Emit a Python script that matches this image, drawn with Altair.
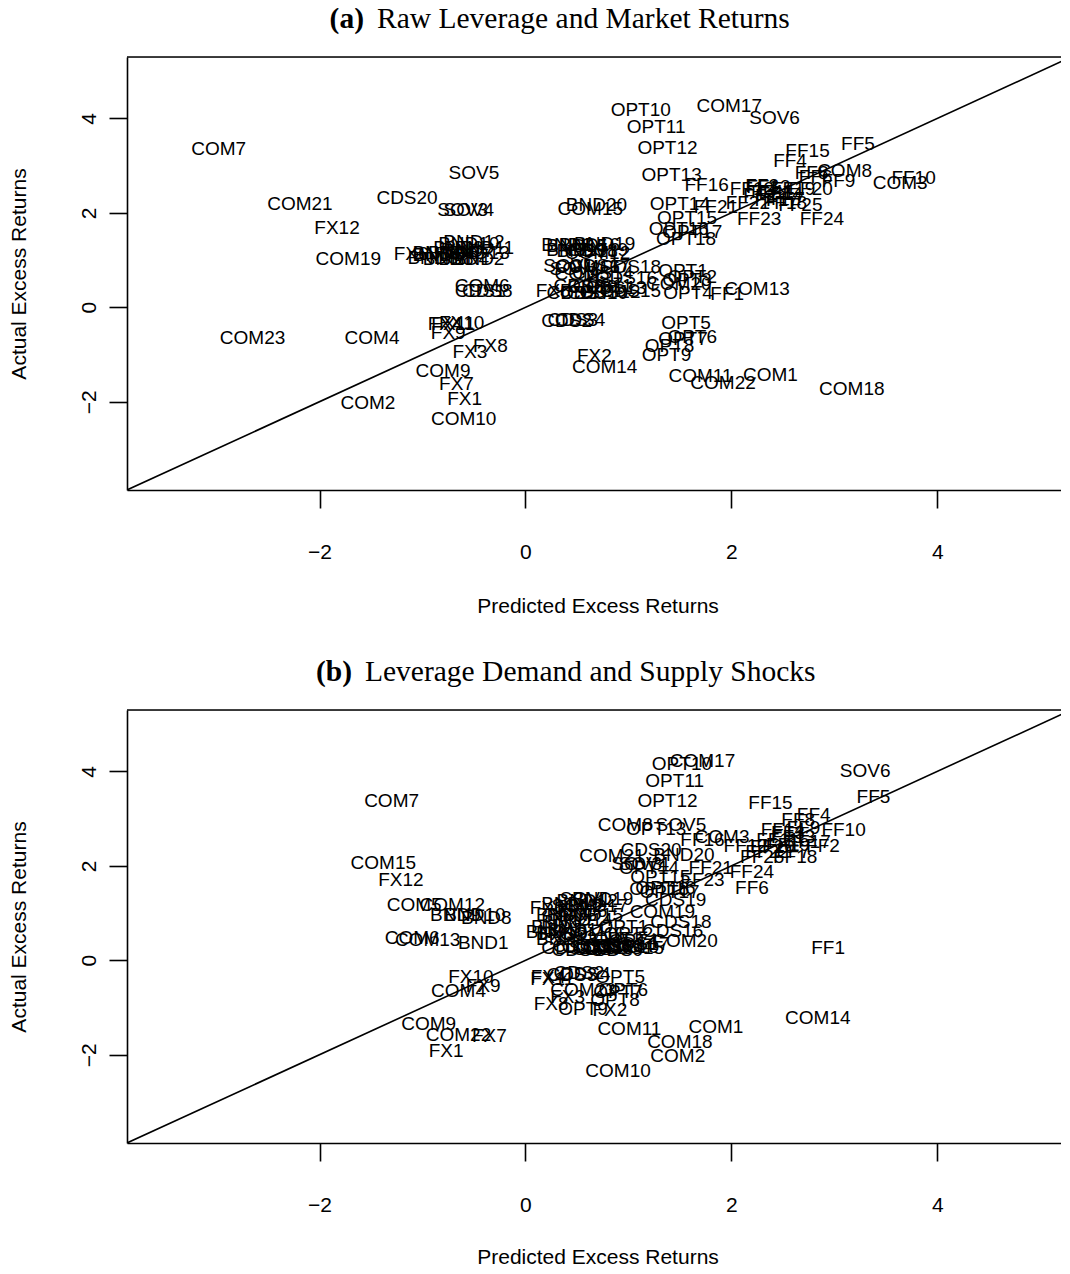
import altair as alt
import pandas as pd

# ---------------- data ----------------
top_names = [
    "COM1", "COM2", "COM3", "COM4", "COM5", "COM6", "COM7", "COM8", "COM9", "COM10",
    "COM11", "COM12", "COM13", "COM14", "COM15", "COM16", "COM17", "COM18", "COM19", "COM20",
    "COM21", "COM22", "COM23",
    "FF1", "FF2", "FF3", "FF4", "FF5", "FF6", "FF7", "FF8", "FF9", "FF10",
    "FF11", "FF12", "FF13", "FF14", "FF15", "FF16", "FF17", "FF18", "FF19", "FF20",
    "FF21", "FF22", "FF23", "FF24", "FF25",
    "OPT1", "OPT2", "OPT3", "OPT4", "OPT5", "OPT6", "OPT7", "OPT8", "OPT9", "OPT10",
    "OPT11", "OPT12", "OPT13", "OPT14", "OPT15", "OPT16", "OPT17", "OPT18",
    "CDS1", "CDS2", "CDS3", "CDS4", "CDS5", "CDS6", "CDS7", "CDS8", "CDS9", "CDS10",
    "CDS11", "CDS12", "CDS13", "CDS14", "CDS15", "CDS16", "CDS17", "CDS18", "CDS19", "CDS20",
    "BND1", "BND2", "BND3", "BND4", "BND5", "BND6", "BND7", "BND8", "BND9", "BND10",
    "BND11", "BND12", "BND13", "BND14", "BND15", "BND16", "BND17", "BND18", "BND19", "BND20",
    "FX1", "FX2", "FX3", "FX4", "FX5", "FX6", "FX7", "FX8", "FX9", "FX10", "FX11", "FX12",
    "SOV1", "SOV2", "SOV3", "SOV4", "SOV5", "SOV6",
]
top_pred = [
    2.38, -1.53, 3.64, -1.49, 0.55, -0.42, -2.98, 3.10, -0.80, -0.60,
    1.70, 0.70, 2.25, 0.77, 0.63, 0.60, 1.98, 3.17, -1.72, 1.49,
    -2.19, 1.92, -2.65,
    1.96, 2.28, 2.30, 2.57, 3.23, 2.82, 2.55, 2.78, 3.04, 3.77,
    2.40, 2.20, 2.36, 2.48, 2.74, 1.76, 2.44, 2.52, 2.60, 2.77,
    1.85, 2.16, 2.27, 2.88, 2.67,
    1.53, 1.62, 1.57, 1.58, 1.56, 1.62, 1.53, 1.40, 1.37, 1.12,
    1.27, 1.38, 1.42, 1.50, 1.57, 1.49, 1.62, 1.56,
    -0.44, 0.40, 0.46, 0.53, 0.45, 0.52, 0.58, -0.37, 0.65, 0.70,
    0.75, 0.82, 0.88, 0.75, 1.02, 0.98, 0.72, 1.02, 0.70, -1.15,
    0.40, -0.45, -0.85, -0.60, -0.70, -0.90, -0.55, -0.75, -0.65, -0.55,
    -0.40, -0.50, -0.45, -0.80, 0.50, 0.62, 0.50, 0.60, 0.77, 0.69,
    -0.59, 0.67, -0.54, -0.78, 0.27, -1.11, -0.67, -0.34, -0.75, -0.62, -0.70, -1.83,
    0.42, 0.48, -0.61, -0.55, -0.50, 2.42,
]
top_act = [
    -1.43, -2.02, 2.63, -0.66, 0.70, 0.45, 3.36, 2.89, -1.36, -2.36,
    -1.45, 1.15, 0.38, -1.26, 2.09, 0.85, 4.26, -1.74, 1.02, 0.49,
    2.19, -1.60, -0.66,
    0.28, 2.36, 2.56, 3.09, 3.45, 2.75, 2.30, 2.85, 2.68, 2.74,
    2.45, 2.50, 2.55, 2.40, 3.30, 2.58, 2.28, 2.20, 2.50, 2.50,
    2.12, 2.21, 1.87, 1.87, 2.17,
    0.77, 0.64, 0.58, 0.30, -0.34, -0.62, -0.68, -0.81, -1.02, 4.17,
    3.81, 3.38, 2.81, 2.19, 1.88, 1.66, 1.60, 1.45,
    0.34, -0.30, -0.28, -0.28, 0.30, 0.45, 0.30, 0.34, 0.42, 0.30,
    0.45, 0.32, 0.40, 0.72, 0.34, 0.62, 0.88, 0.85, 1.22, 2.32,
    1.32, 1.02, 1.10, 1.02, 1.15, 1.05, 1.20, 1.02, 1.25, 1.35,
    1.25, 1.38, 1.15, 1.15, 1.30, 1.32, 1.22, 1.20, 1.33, 2.17,
    -1.94, -1.04, -0.94, -0.36, 0.34, 1.13, -1.62, -0.81, -0.55, -0.34, -0.36, 1.68,
    0.88, 0.80, 2.06, 2.06, 2.85, 4.00,
]

bot_names = top_names
bot_pred = [
    1.85, 1.48, 1.91, -0.65, -1.08, -1.10, -1.30, 0.97, -0.94, 0.90,
    1.01, -0.71, -0.95, 2.84, -1.38, 0.65, 1.72, 1.50, 1.33, 1.55,
    0.84, -0.65, 0.56,
    2.94, 2.89, 2.55, 2.80, 3.38, 2.20, 2.60, 2.65, 2.70, 3.09,
    2.45, 2.14, 2.60, 2.50, 2.38, 1.72, 2.75, 2.62, 2.55, 2.40,
    1.80, 2.35, 1.72, 2.20, 2.30,
    0.95, 1.00, 0.90, 1.05, 0.92, 0.95, 0.90, 0.87, 0.56, 1.52,
    1.45, 1.38, 1.27, 1.20, 1.31, 1.36, 1.40, 1.30,
    0.40, 0.52, 0.45, 0.58, 0.50, 0.60, 0.70, 0.80, 0.90, 1.00,
    0.55, 0.75, 0.85, 0.95, 1.05, 1.43, 1.10, 1.51, 1.46, 1.22,
    -0.41, 0.35, 0.30, 0.40, 0.45, 0.55, 0.35, -0.38, -0.68, -0.49,
    0.50, 0.60, 0.40, 0.55, 0.65, 0.30, 0.70, 0.45, 0.75, 1.54,
    -0.77, 0.82, 0.41, 0.22, 0.30, 0.21, -0.35, 0.25, -0.41, -0.53, 0.26, -1.21,
    0.58, 0.50, 1.08, 1.15, 1.51, 3.30,
]
bot_act = [
    -1.42, -2.03, 2.60, -0.66, 1.16, 0.47, 3.37, 2.86, -1.36, -2.35,
    -1.46, 1.18, 0.42, -1.23, 2.05, 0.55, 4.23, -1.74, 1.02, 0.40,
    2.20, -1.59, -0.63,
    0.25, 2.41, 2.70, 3.07, 3.45, 1.52, 2.30, 2.96, 2.80, 2.75,
    2.55, 2.43, 2.60, 2.75, 3.32, 2.54, 2.50, 2.18, 2.45, 2.40,
    1.95, 2.30, 1.71, 1.86, 2.18,
    0.70, 0.55, 0.45, 0.40, -0.36, -0.62, -0.68, -0.85, -1.04, 4.15,
    3.79, 3.37, 2.79, 1.95, 1.76, 1.54, 1.45, 1.50,
    0.25, -0.28, -0.32, -0.30, 0.22, 0.28, 0.24, 0.26, 0.22, 0.28,
    0.30, 0.30, 0.30, 0.30, 0.25, 0.61, 0.35, 0.80, 1.27, 2.33,
    0.36, 0.55, 0.70, 0.82, 0.95, 1.05, 0.95, 0.89, 0.95, 0.95,
    0.65, 1.25, 0.45, 0.85, 0.95, 0.60, 1.15, 1.20, 1.30, 2.22,
    -1.93, -1.06, -0.78, -0.35, 0.55, 1.10, -1.61, -0.93, -0.55, -0.36, -0.40, 1.69,
    1.30, 1.15, 2.03, 2.03, 2.86, 4.00,
]

tick_values = [-2, 0, 2, 4]
axis_lo, x_hi, y_hi = -3.87, 5.27, 5.30
diag_ends = [axis_lo, y_hi]

# ---------------- styling ----------------
W, H = 941, 433
SANS = "Liberation Sans"
SERIF = "Liberation Serif"
FS = 19      # point labels
AFS = 21     # axis labels and titles
TFS = 29.5   # panel titles
LW = 1.6


def axes(x_title_y):
    xaxis = alt.Axis(
        values=tick_values,
        labelExpr="datum.value < 0 ? '\u2212' + abs(datum.value) : '' + datum.value",
        title="Predicted Excess Returns",
        grid=False, domainColor="black", domainWidth=LW,
        tickColor="black", tickWidth=LW, tickSize=18,
        labelFont=SANS, labelFontSize=AFS, labelColor="black", labelPadding=33,
        labelFlush=False,
        titleFont=SANS, titleFontSize=AFS, titleFontWeight="normal", titleColor="black",
        titleY=x_title_y, titleBaseline="middle",
    )
    yaxis = alt.Axis(
        values=tick_values,
        labelExpr="datum.value < 0 ? '\u2212' + abs(datum.value) : '' + datum.value",
        title="Actual Excess Returns",
        grid=False, domainColor="black", domainWidth=LW,
        tickColor="black", tickWidth=LW, tickSize=18,
        labelFont=SANS, labelFontSize=AFS, labelColor="black", labelPadding=10,
        labelAngle=270, labelAlign="center", labelBaseline="bottom", labelFlush=False,
        titleFont=SANS, titleFontSize=AFS, titleFontWeight="normal", titleColor="black",
        titleAngle=270, titleX=-108, titleY=H / 2, titleBaseline="middle", titleAlign="center",
    )
    return xaxis, yaxis


def panel(names, xs, ys, tag, rest, tag_right, rest_left, x_title_y):
    xs_ = alt.Scale(domain=[axis_lo, x_hi], nice=False, zero=False)
    ys_ = alt.Scale(domain=[axis_lo, y_hi], nice=False, zero=False)
    xaxis, yaxis = axes(x_title_y)
    df = pd.DataFrame({"name": names, "pred": xs, "act": ys})

    labels = alt.Chart(df).mark_text(
        font=SANS, fontSize=FS, color="black", align="center", baseline="middle"
    ).encode(
        x=alt.X("pred:Q", scale=xs_, axis=xaxis),
        y=alt.Y("act:Q", scale=ys_, axis=yaxis),
        text="name:N",
    )
    diag = alt.Chart(pd.DataFrame({"pred": diag_ends, "act": diag_ends})).mark_line(
        color="black", strokeWidth=LW, clip=True
    ).encode(
        x=alt.X("pred:Q", scale=xs_, axis=xaxis),
        y=alt.Y("act:Q", scale=ys_, axis=yaxis),
    )
    topline = alt.Chart(pd.DataFrame({"act": [y_hi]})).mark_rule(
        color="black", strokeWidth=LW
    ).encode(y=alt.Y("act:Q", scale=ys_, axis=yaxis))

    t1 = alt.Chart(pd.DataFrame({"t": [tag]})).mark_text(
        font=SERIF, fontSize=TFS, fontWeight="bold", align="right", baseline="alphabetic",
        color="black"
    ).encode(x=alt.value(tag_right), y=alt.value(-29), text="t:N")
    t2 = alt.Chart(pd.DataFrame({"t": [rest]})).mark_text(
        font=SERIF, fontSize=TFS, align="left", baseline="alphabetic", color="black"
    ).encode(x=alt.value(rest_left), y=alt.value(-29), text="t:N")

    return alt.layer(labels, diag, topline, t1, t2).properties(width=W, height=H)


top = panel(top_names, top_pred, top_act, "(a)", "Raw Leverage and Market Returns",
            237, 250, 116)
bot = panel(bot_names, bot_pred, bot_act, "(b)", "Leverage Demand and Supply Shocks",
            225, 238, 114)

chart = alt.vconcat(top, bot, spacing=39).properties(
    padding={"left": -1, "top": -5, "right": -9, "bottom": -2}
).configure_view(stroke=None).configure(background="white")

chart.save("out.html", embed_options={"renderer": "svg", "actions": False})
